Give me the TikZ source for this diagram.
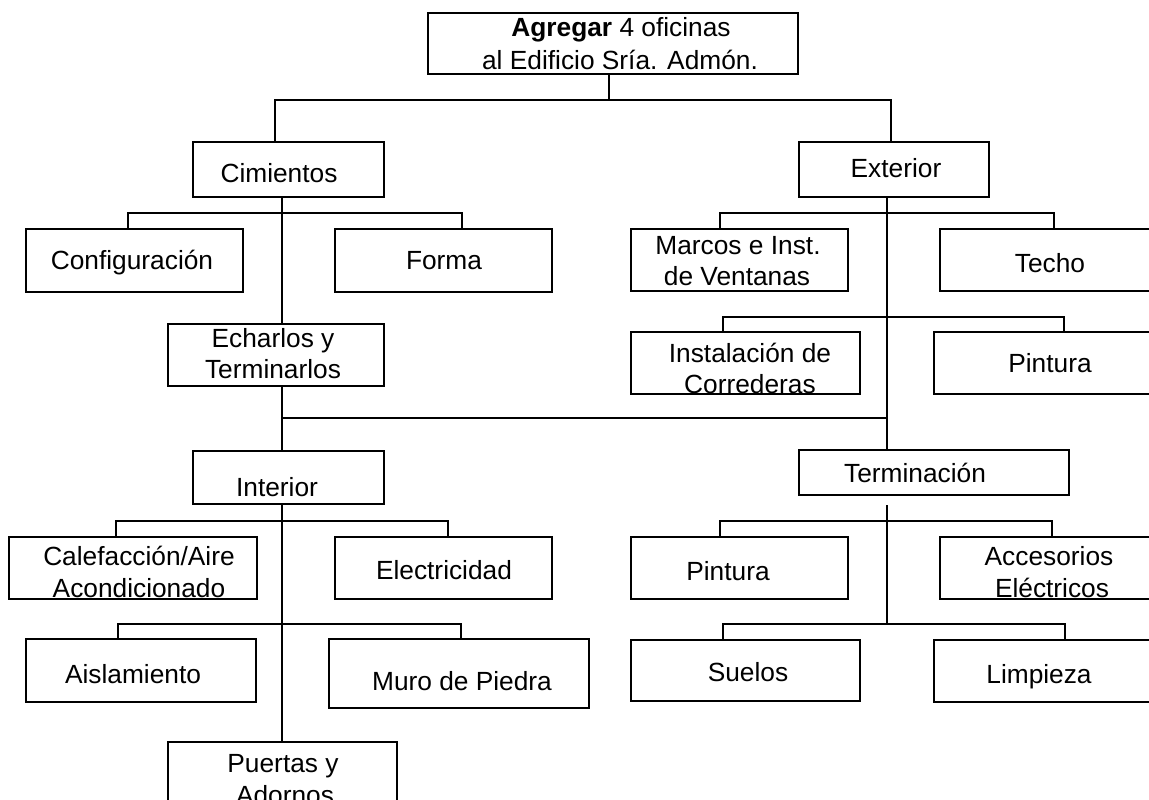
\documentclass[tikz,border=0pt]{standalone}
\usepackage{fontspec}
\setmainfont{Liberation Sans}
\usetikzlibrary{fit}
\begin{document}
\begin{tikzpicture}[x=1pt,y=-1pt,
  bx/.style={draw, line width=2.6pt, inner sep=0pt, outer sep=0pt},
  lbl/.style={anchor=base, inner sep=0pt, font=\fontsize{26.3}{32}\selectfont},
  cn/.style={line width=2.8pt}]
\useasboundingbox (0,0) rectangle (1149,800);
\clip (0,0) rectangle (1149,800);
% boxes
\node[bx, fit={(428,13) (798,74)}] (root) {};
\node[bx, fit={(193,142) (384,197)}] (cim) {};
\node[bx, fit={(26,229) (243,292)}] (conf) {};
\node[bx, fit={(335,229) (552,292)}] (forma) {};
\node[bx, fit={(168,324) (384,386)}] (ech) {};
\node[bx, fit={(799,142) (989,197)}] (ext) {};
\node[bx, fit={(631,229) (848,291)}] (marcos) {};
\node[bx, fit={(940,229) (1165,291)}] (techo) {};
\node[bx, fit={(631,332) (860,394)}] (inst) {};
\node[bx, fit={(934,332) (1165,394)}] (pintA) {};
\node[bx, fit={(193,451) (384,504)}] (int) {};
\node[bx, fit={(9,537) (257,599)}] (calef) {};
\node[bx, fit={(335,537) (552,599)}] (elec) {};
\node[bx, fit={(26,639) (256,702)}] (aisl) {};
\node[bx, fit={(329,639) (589,708)}] (muro) {};
\node[bx, fit={(168,742) (397,815)}] (puertas) {};
\node[bx, fit={(799,450) (1069,495)}] (term) {};
\node[bx, fit={(631,537) (848,599)}] (pintB) {};
\node[bx, fit={(940,537) (1165,599)}] (acc) {};
\node[bx, fit={(631,640) (860,701)}] (suelos) {};
\node[bx, fit={(934,640) (1165,702)}] (limp) {};
% labels
\node[lbl] (rootA) at (621,37) {\textbf{Agregar} 4 oficinas};
\node[lbl] (rootB) at (620,70) {al Edificio Sría. Admón.};
\node[lbl] (cimT) at (279,182) {Cimientos};
\node[lbl] (confT) at (132,269) {Configuración};
\node[lbl] (formaT) at (444,269) {Forma};
\node[lbl] (echA) at (273,347) {Echarlos y};
\node[lbl] (echB) at (273,378) {Terminarlos};
\node[lbl] (extT) at (896,177) {Exterior};
\node[lbl] (marA) at (738,254) {Marcos e Inst.};
\node[lbl] (marB) at (737,285) {de Ventanas};
\node[lbl] (techoT) at (1050,272) {Techo};
\node[lbl] (instA) at (750,362) {Instalación de};
\node[lbl] (instB) at (750,393) {Correderas};
\node[lbl] (pintAT) at (1050,372) {Pintura};
\node[lbl] (intT) at (277,496) {Interior};
\node[lbl] (calA) at (139,565) {Calefacción/Aire};
\node[lbl] (calB) at (139,597) {Acondicionado};
\node[lbl] (elecT) at (444,579) {Electricidad};
\node[lbl] (aislT) at (133,683) {Aislamiento};
\node[lbl] (muroT) at (462,690) {Muro de Piedra};
\node[lbl] (puA) at (283,772) {Puertas y};
\node[lbl] (puB) at (285,804) {Adornos};
\node[lbl] (termT) at (915,482) {Terminación};
\node[lbl] (pintBT) at (728,580) {Pintura};
\node[lbl] (accA) at (1049,565) {Accesorios};
\node[lbl] (accB) at (1052,597) {Eléctricos};
\node[lbl] (suelT) at (748,681) {Suelos};
\node[lbl] (limpT) at (1039,683) {Limpieza};
% bus coordinates
\coordinate (b0) at (609,100);
\coordinate (cL) at (275,100);
\coordinate (eR) at (891,100);
\coordinate (cs) at (282,213);
\coordinate (cb1) at (128,213);
\coordinate (cb2) at (462,213);
\coordinate (mj) at (282,418);
\coordinate (mr) at (887,418);
\coordinate (eb1) at (720,213);
\coordinate (eb2) at (1054,213);
\coordinate (eb3) at (723,317);
\coordinate (eb4) at (1064,317);
\coordinate (ib1) at (116,521);
\coordinate (ib2) at (448,521);
\coordinate (ib3) at (118,624);
\coordinate (ib4) at (461,624);
\coordinate (ts) at (887,505);
\coordinate (te) at (887,624);
\coordinate (tb1) at (720,521);
\coordinate (tb2) at (1052,521);
\coordinate (tb3) at (723,624);
\coordinate (tb4) at (1065,624);
% connectors
\draw[cn] (root.south -| b0) -- (b0);
\draw[cn] (cim.north -| cL) -- (cL) -- (eR) -- (ext.north -| eR);
\draw[cn] (cim.south -| cs) -- (ech.north -| cs);
\draw[cn] (conf.north -| cb1) -- (cb1) -- (cb2) -- (forma.north -| cb2);
\draw[cn] (ech.south -| mj) -- (int.north -| mj);
\draw[cn] (mj) -- (mr);
\draw[cn] (ext.south -| mr) -- (term.north -| mr);
\draw[cn] (marcos.north -| eb1) -- (eb1) -- (eb2) -- (techo.north -| eb2);
\draw[cn] (inst.north -| eb3) -- (eb3) -- (eb4) -- (pintA.north -| eb4);
\draw[cn] (int.south -| cs) -- (puertas.north -| cs);
\draw[cn] (calef.north -| ib1) -- (ib1) -- (ib2) -- (elec.north -| ib2);
\draw[cn] (aisl.north -| ib3) -- (ib3) -- (ib4) -- (muro.north -| ib4);
\draw[cn] (ts) -- (te);
\draw[cn] (pintB.north -| tb1) -- (tb1) -- (tb2) -- (acc.north -| tb2);
\draw[cn] (suelos.north -| tb3) -- (tb3) -- (tb4) -- (limp.north -| tb4);
\end{tikzpicture}
\end{document}
